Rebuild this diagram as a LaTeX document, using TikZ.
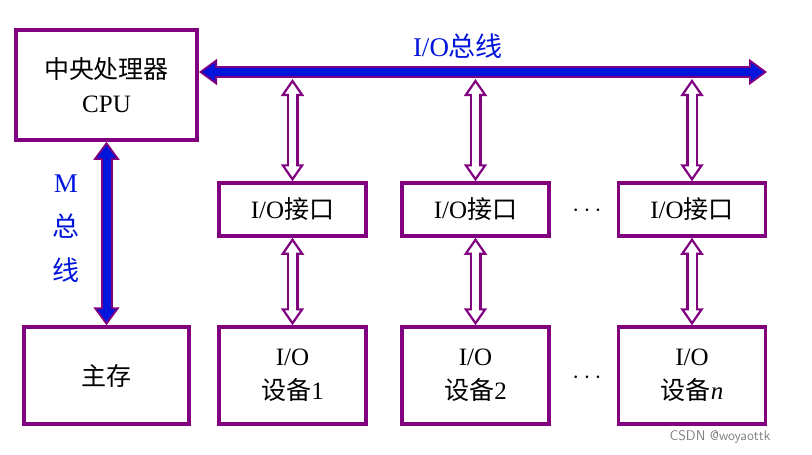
\documentclass[tikz,border=0pt]{standalone}
\usepackage{fontspec}
\setmainfont{Liberation Serif}
\newfontfamily\cjk{Noto Sans CJK SC}
\usetikzlibrary{arrows.meta}
\definecolor{pp}{RGB}{128,0,128}
\definecolor{bb}{RGB}{0,20,220}
\begin{document}
\begin{tikzpicture}[x=1pt,y=-1pt,
 box/.style={draw=pp,line width=3.5pt,minimum width=#1,align=center,font=\fontsize{25}{34}\selectfont,inner sep=0pt},
 box/.default=147pt,
 bus/.style={line width=12pt,pp,{Triangle[width=26pt,length=18pt,fill=bb,line width=1.8pt]}-{Triangle[width=26pt,length=18pt,fill=bb,line width=1.8pt]}},
 busin/.style={line width=8pt,bb,shorten <=15pt,shorten >=15pt},
 io/.style={line width=12pt,pp,{Triangle[width=23pt,length=17pt,fill=white,line width=2.2pt]}-{Triangle[width=23pt,length=17pt,fill=white,line width=2.2pt]}},
 ioin/.style={line width=7pt,white,shorten <=13pt,shorten >=13pt},
 lab/.style={text=bb,font=\fontsize{27}{32}\selectfont}]
\useasboundingbox (0,0) rectangle (812,455);
\node[box=181pt,minimum height=110pt] (cpu) at (106.5,85) {{\cjk 中央处理器}\\CPU};
\node[box=165pt,minimum height=97pt] (mem) at (106.5,375.5) {\cjk 主存};
\foreach \i/\x/\n in {1/292.5/1,2/475.5/2,3/692/{\textit{n}}}{
  \node[box,minimum height=53pt] (if\i) at (\x,209.5) {I/O{\cjk 接口}};
  \node[box,minimum height=97pt] (dev\i) at (\x,375.5) {I/O\\{\cjk 设备}\n};
  \coordinate (b\i) at (\x,72);
}
\coordinate (bl) at (199,72);
\coordinate (br) at (767,72);
\draw[bus] (bl) -- (br);
\draw[busin] (bl) -- (br);
\draw[bus] (cpu.south) -- (mem.north);
\draw[busin] (cpu.south) -- (mem.north);
\foreach \i in {1,2,3}{
  \draw[io] ([yshift=-7pt]b\i) -- (if\i.north);
  \draw[ioin] ([yshift=-7pt]b\i) -- (if\i.north);
  \draw[io] (if\i.south) -- (dev\i.north);
  \draw[ioin] (if\i.south) -- (dev\i.north);
}
\node[lab] (t1) at (458,46) {I/O{\cjk 总线}};
\node[lab,align=center,font=\fontsize{27}{44}\selectfont] (t2) at (66,229) {M\\{\cjk 总}\\{\cjk 线}};
\node[font=\fontsize{24}{28}\selectfont] (d1) at (587,211) {$\cdots$};
\node[font=\fontsize{24}{28}\selectfont] (d2) at (587,378) {$\cdots$};
\node[text=gray,font=\fontsize{14}{16}\selectfont\sffamily] (wm) at (720,437) {CSDN @woyaottk};
\end{tikzpicture}
\end{document}
